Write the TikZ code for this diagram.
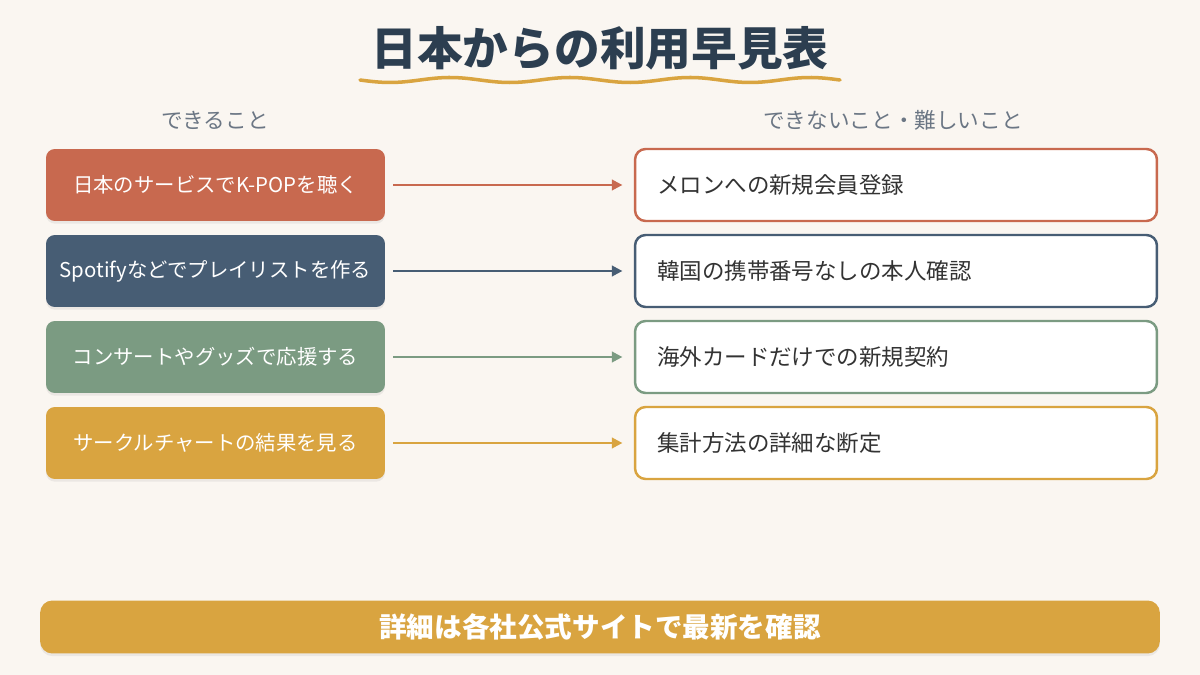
\documentclass[tikz,border=0pt]{standalone}
\usepackage{fontspec}
\setmainfont{Noto Sans CJK JP}
\usetikzlibrary{arrows.meta,shadows}

\definecolor{bgcream}{HTML}{FAF6F1}
\definecolor{titlenavy}{HTML}{2C3E50}
\definecolor{subgray}{HTML}{6B7684}
\definecolor{terra}{HTML}{C8694F}
\definecolor{slate}{HTML}{475D74}
\definecolor{sage}{HTML}{7B9B82}
\definecolor{mustard}{HTML}{D9A440}
\definecolor{textdark}{HTML}{333333}

\begin{document}
\begin{tikzpicture}[
        x=0.02cm, y=-0.02cm,
        canbox/.style={
            rounded corners=5pt,
            minimum width=6.78cm,
            minimum height=1.44cm,
            text=white,
            font=\fontsize{11.6}{13}\selectfont,
            drop shadow={opacity=0.12, shadow xshift=0pt, shadow yshift=-1.5pt}
        },
        cantbox/.style={
            draw,
            line width=1.4pt,
            fill=white,
            rounded corners=6pt,
            minimum width=10.44cm,
            minimum height=1.44cm,
            inner xsep=0.44cm,
            text width=9.56cm,
            align=left,
            text=textdark,
            font=\fontsize{12.8}{15}\selectfont
        },
        link/.style={
            line width=1.3pt,
            -{Triangle[length=6pt,width=6pt]},
            shorten <=4.5pt,
            shorten >=6.5pt
        },
        heading/.style={
            text=subgray,
            font=\fontsize{12.3}{14}\selectfont
        }
    ]
        % Background
        \fill[bgcream] (0,0) rectangle (1200,675);
        \useasboundingbox (0,0) rectangle (1200,675);

        % Title
        \node[text=titlenavy, font=\fontsize{26}{30}\selectfont\bfseries] (title) at (600,48) {日本からの利用早見表};
        \draw[mustard, line width=2pt, line cap=round]
            plot[domain=360:840, samples=120] (\x, {80+2.5*sin((\x-360)*3)});

        % Column headings
        \node[heading] (canhead) at (215,120) {できること};
        \node[heading] (canthead) at (893,120) {できないこと・難しいこと};

        % Left column
        \node[canbox, fill=terra] (can1) at (215.5,185) {日本のサービスでK-POPを聴く};
        \node[canbox, fill=slate] (can2) at (215.5,271) {Spotifyなどでプレイリストを作る};
        \node[canbox, fill=sage] (can3) at (215.5,357) {コンサートやグッズで応援する};
        \node[canbox, fill=mustard] (can4) at (215.5,443) {サークルチャートの結果を見る};

        % Right column
        \node[cantbox, draw=terra] (cant1) at (896,185) {メロンへの新規会員登録};
        \node[cantbox, draw=slate] (cant2) at (896,271) {韓国の携帯番号なしの本人確認};
        \node[cantbox, draw=sage] (cant3) at (896,357) {海外カードだけでの新規契約};
        \node[cantbox, draw=mustard] (cant4) at (896,443) {集計方法の詳細な断定};

        % Arrows
        \draw[link, terra] (can1) -- (cant1);
        \draw[link, slate] (can2) -- (cant2);
        \draw[link, sage] (can3) -- (cant3);
        \draw[link, mustard] (can4) -- (cant4);

        % Footer
        \node[fill=mustard, rounded corners=7pt, minimum width=22.4cm, minimum height=1.06cm,
              text=white, font=\fontsize{15.7}{18}\selectfont\bfseries,
              drop shadow={opacity=0.12, shadow xshift=0pt, shadow yshift=-1.5pt}] (footer) at (600,627) {詳細は各社公式サイトで最新を確認};
    \end{tikzpicture}
\end{document}
